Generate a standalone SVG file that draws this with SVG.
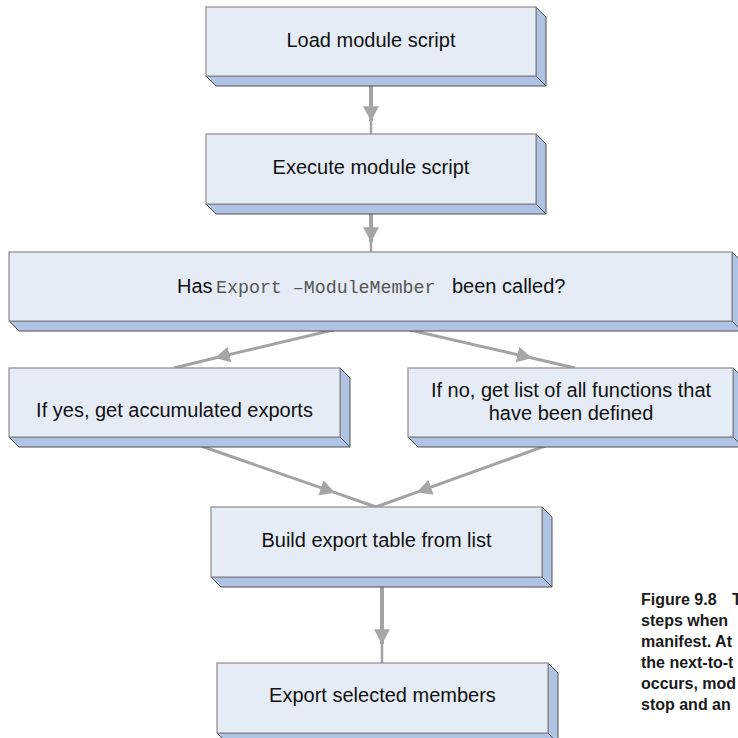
<svg xmlns="http://www.w3.org/2000/svg" width="738" height="738" viewBox="0 0 738 738">
<style>
.front{fill:#e5ecf6;stroke:#8c8c8c;stroke-width:1.2}
.side{fill:#afc4e4;stroke:#505050;stroke-width:1}
.lbl{font-family:"Liberation Sans",Arial,sans-serif;font-size:20px;fill:#111}
.mono{font-family:"Liberation Mono","Courier New",monospace;font-size:18.3px;fill:#555}
.conn{stroke:#a3a3a3;fill:none}
.cap{font-family:"Liberation Sans",Arial,sans-serif;font-size:16px;font-weight:bold;fill:#1a1a1a}
</style>
<defs>
<marker id="ah" markerUnits="userSpaceOnUse" markerWidth="16" markerHeight="16" viewBox="0 0 14 14" refX="13" refY="7" orient="auto">
<path d="M0,0 L13,7 L0,14 Z" fill="#a6a6a6"/>
</marker>
</defs>
<g id="connectors">
<path class="conn" stroke-width="4" d="M371,76 L371,121" marker-end="url(#ah)"/>
<path class="conn" stroke-width="2.5" d="M371,118 L371,134"/>
<path class="conn" stroke-width="4" d="M371,214 L371,242" marker-end="url(#ah)"/>
<path class="conn" stroke-width="2.5" d="M371,239 L371,252"/>
<path class="conn" stroke-width="3" d="M371,321 L215,358 L174,368" marker-mid="url(#ah)"/>
<path class="conn" stroke-width="3" d="M371,321 L532,358 L575,368" marker-mid="url(#ah)"/>
<path class="conn" stroke-width="3" d="M175,437 L335,492.7 L376,507" marker-mid="url(#ah)"/>
<path class="conn" stroke-width="3" d="M570,437 L417,492.2 L376,507" marker-mid="url(#ah)"/>
<path class="conn" stroke-width="4" d="M382,577 L382,644" marker-end="url(#ah)"/>
<path class="conn" stroke-width="2.5" d="M382,641 L382,663"/>
</g>
<g id="n1">
<polygon class="side" points="206,76 536,76 546,86 216,86"/>
<polygon class="side" points="536,7 546,17 546,86 536,76"/>
<rect class="front" x="206" y="7" width="330" height="69"/>
<text class="lbl" x="371" y="47" text-anchor="middle">Load module script</text>
</g>
<g id="n2">
<polygon class="side" points="206,204 536,204 546,214 216,214"/>
<polygon class="side" points="536,134 546,144 546,214 536,204"/>
<rect class="front" x="206" y="134" width="330" height="70"/>
<text class="lbl" x="371" y="174" text-anchor="middle">Execute module script</text>
</g>
<g id="n3">
<polygon class="side" points="9,321 732,321 742,331 19,331"/>
<polygon class="side" points="732,252 742,262 742,331 732,321"/>
<rect class="front" x="9" y="252" width="723" height="69"/>
<text class="lbl" x="177" y="293">Has</text>
<text class="mono" x="216" y="293">Export –ModuleMember</text>
<text class="lbl" x="452" y="293">been called?</text>
</g>
<g id="n4">
<polygon class="side" points="9,437 340,437 350,447 19,447"/>
<polygon class="side" points="340,368 350,378 350,447 340,437"/>
<rect class="front" x="9" y="368" width="331" height="69"/>
<text class="lbl" x="174.5" y="417" text-anchor="middle">If yes, get accumulated exports</text>
</g>
<g id="n5">
<polygon class="side" points="408,437 733,437 743,447 418,447"/>
<polygon class="side" points="733,368 743,378 743,447 733,437"/>
<rect class="front" x="408" y="368" width="325" height="69"/>
<text class="lbl" x="571" y="397" text-anchor="middle">If no, get list of all functions that</text>
<text class="lbl" x="571" y="420" text-anchor="middle">have been defined</text>
</g>
<g id="n6">
<polygon class="side" points="211,577 542,577 552,587 221,587"/>
<polygon class="side" points="542,507 552,517 552,587 542,577"/>
<rect class="front" x="211" y="507" width="331" height="70"/>
<text class="lbl" x="376.5" y="547" text-anchor="middle">Build export table from list</text>
</g>
<g id="n7">
<polygon class="side" points="217,733 548,733 558,743 227,743"/>
<polygon class="side" points="548,663 558,673 558,743 548,733"/>
<rect class="front" x="217" y="663" width="331" height="70"/>
<text class="lbl" x="382.5" y="702" text-anchor="middle">Export selected members</text>
</g>
<g id="caption">
<text class="cap" x="641" y="605">Figure 9.8<tspan x="732">T</tspan></text>
<text class="cap" x="641" y="626">steps when</text>
<text class="cap" x="641" y="647">manifest. At</text>
<text class="cap" x="641" y="668">the next-to-t</text>
<text class="cap" x="641" y="689">occurs, mod</text>
<text class="cap" x="641" y="710">stop and an</text>
</g>
</svg>
